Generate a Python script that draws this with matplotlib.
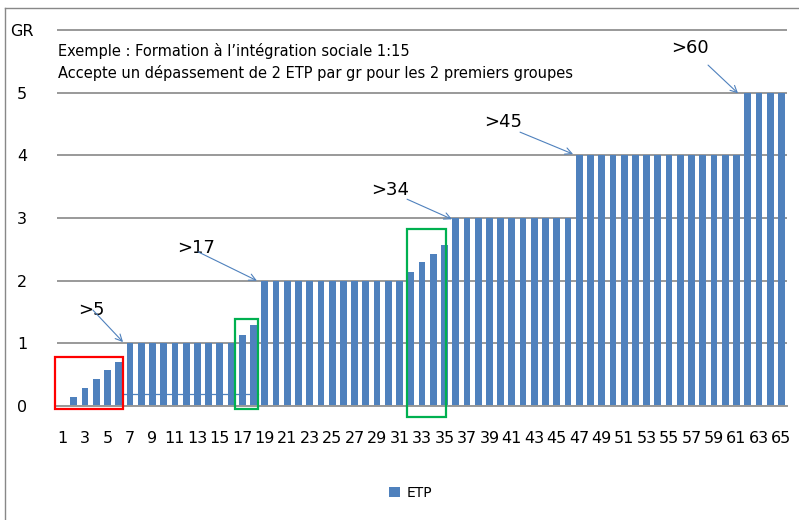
import matplotlib.pyplot as plt
import matplotlib.patches as patches
from matplotlib.lines import Line2D

# ETP count (1..65) -> number of groups (GR)
etp = list(range(1, 66))
gr = [0, 0.14, 0.29, 0.43, 0.57, 0.71,
      1, 1, 1, 1, 1, 1, 1, 1, 1, 1,
      1.14, 1.29,
      2, 2, 2, 2, 2, 2, 2, 2, 2, 2, 2, 2, 2,
      2.14, 2.29, 2.43, 2.57,
      3, 3, 3, 3, 3, 3, 3, 3, 3, 3, 3,
      4, 4, 4, 4, 4, 4, 4, 4, 4, 4, 4, 4, 4, 4, 4,
      5, 5, 5, 5]

y_ticks = [0, 1, 2, 3, 4, 5, 6]
y_labels = ["0", "1", "2", "3", "4", "5", "GR"]
x_ticks = etp[::2]

# threshold annotations: label, label position, arrow start, arrow target
thr_labels = [">5", ">17", ">34", ">45", ">60"]
thr_text_xy = [(3.6, 1.53), (12.9, 2.52), (30.2, 3.45), (40.2, 4.53), (56.9, 5.71)]
thr_start = [(3.7, 1.53), (13.06, 2.46), (31.67, 3.30), (41.73, 4.37), (58.47, 5.44)]
thr_target = [(6.38, 1.02), (18.3, 2.0), (35.67, 2.98), (46.45, 4.02), (61.14, 4.99)]

# highlight boxes: (x0, x1, y0, y1, colour)
boxes = [(0.32, 6.38, -0.05, 0.78, "#ff0000"),
         (16.35, 18.4, -0.05, 1.39, "#00b050"),
         (31.67, 35.14, -0.18, 2.82, "#00b050")]

note = ("Exemple : Formation à l\u2019intégration sociale 1:15\n"
        "Accepte un dépassement de 2 ETP par gr pour les 2 premiers groupes")

blue = "#4f81bd"
grid_c = "#999999"

plt.rcParams['font.family'] = ['DejaVu Sans']

fig = plt.figure(figsize=(7.99, 5.2), dpi=100)
# y range goes a hair above 6 so the top (GR) gridline isn't half clipped
ax = fig.add_axes([57 / 799, 114 / 520, 730 / 799, 377 / 520])

ax.bar(etp, gr, width=0.6, color=blue, label="ETP", zorder=2)

ax.set_xlim(0.5, 65.5)
ax.set_ylim(0, 6.016)
ax.set_yticks(y_ticks)
ax.set_yticklabels(y_labels, fontsize=11.5, ha="center")
ax.set_xticks(x_ticks)
ax.set_xticklabels([str(v) for v in x_ticks], fontsize=11.5)
ax.tick_params(axis="y", length=0, pad=25)
ax.tick_params(axis="x", length=0, pad=18)
ax.yaxis.grid(True, color=grid_c, linewidth=1.4, zorder=0)
ax.set_axisbelow(True)
for s in ["top", "right", "left"]:
    ax.spines[s].set_visible(False)
ax.spines["bottom"].set_color(grid_c)
ax.spines["bottom"].set_linewidth(1.4)

# thin blue helper line across the bottom of the first groups
ax.plot([6.29, 18.4], [0.19, 0.19], color=blue, linewidth=0.9, zorder=3)

for lab, txy, st, tg in zip(thr_labels, thr_text_xy, thr_start, thr_target):
    ax.text(txy[0], txy[1], lab, fontsize=13, ha="center", va="center")
    ax.annotate("", xy=tg, xytext=st,
                arrowprops=dict(arrowstyle="->", color=blue, lw=0.8,
                                shrinkA=0, shrinkB=0, mutation_scale=12),
                annotation_clip=False)

for x0, x1, y0, y1, c in boxes:
    ax.add_patch(patches.Rectangle((x0, y0), x1 - x0, y1 - y0, fill=False,
                                   edgecolor=c, linewidth=1.6, clip_on=False, zorder=4))

fig.text(58 / 799, 1 - 62 / 520, note, fontsize=10.5, ha="left", va="center",
         linespacing=1.45)

leg = fig.legend(loc="center", bbox_to_anchor=(0.514, 1 - 493 / 520), frameon=False,
                 fontsize=10, handlelength=0.8, handleheight=0.8, handletextpad=0.5)

# outer chart frame
fig.add_artist(Line2D([4.5 / 799, 4.5 / 799], [0, 1 - 8 / 520], color="#888888",
                      linewidth=1, transform=fig.transFigure))
fig.add_artist(Line2D([4.5 / 799, 1], [1 - 8 / 520, 1 - 8 / 520], color="#888888",
                      linewidth=1, transform=fig.transFigure))

fig.savefig("out.png", dpi=100)
